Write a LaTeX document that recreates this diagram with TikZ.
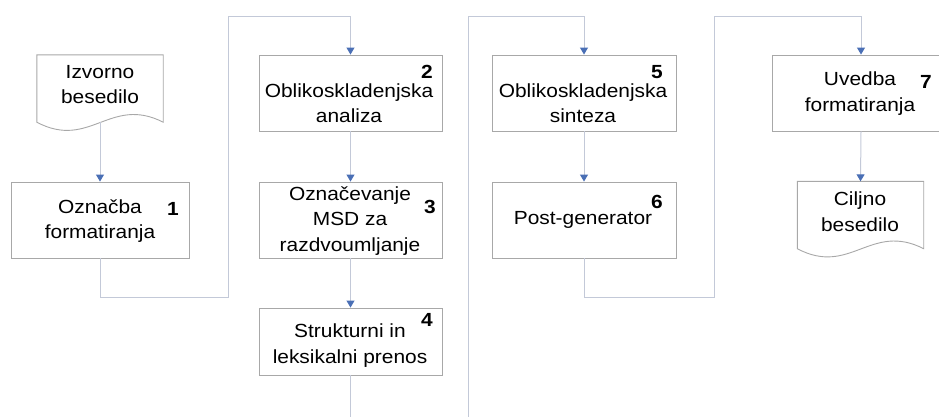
\documentclass[tikz,border=0pt]{standalone}
\usepackage{fontspec}
\setmainfont{Liberation Sans}[FakeStretch=1.1]
\usetikzlibrary{arrows.meta}
\definecolor{linec}{HTML}{C3C9D8}
\definecolor{boxc}{HTML}{A8A8A8}
\definecolor{tipc}{HTML}{4A6FB5}
\begin{document}
\begin{tikzpicture}[x=1pt,y=-1pt,
  box/.style={draw=boxc, line width=0.9pt, fill=white, inner sep=0pt, minimum width=183pt, minimum height=76pt},
  docarea/.style={inner sep=0pt, minimum width=126pt, minimum height=67pt},
  docline/.style={draw=boxc, line width=0.9pt, fill=white},
  txt/.style={inner sep=0pt, align=center, font=\fontsize{19}{25.5}\selectfont},
  num/.style={inner sep=0pt, font=\fontsize{19}{22}\selectfont\bfseries},
  conn/.style={draw=linec, line width=1pt, -{Triangle[width=8pt,length=7pt,color=tipc]}}]
\useasboundingbox (0,0) rectangle (939,416);
\clip (0,0) rectangle (939,416);
% bend points
\coordinate (k1) at (228,297);
\coordinate (k2) at (228,16);
\coordinate (k3) at (468,440);
\coordinate (k4) at (468,16);
\coordinate (k5) at (714,297);
\coordinate (k6) at (714,16);
% nodes
\node[docarea] (izv) at (100,88.5) {};
\draw[docline] (izv.north west) -- (izv.north east) -- (izv.south east)
  .. controls +(-53,-27) and +(53,28) .. (izv.south west) -- cycle;
\node[box, minimum width=178pt] (b1) at (100,220) {};
\node[box] (b2) at (350.5,93) {};
\node[box] (b3) at (350.5,220) {};
\node[box, minimum height=67pt] (b4) at (350.5,341.5) {};
\node[box, minimum width=184pt] (b5) at (584,93) {};
\node[box, minimum width=184pt] (b6) at (584,220) {};
\node[box, minimum width=178pt] (b7) at (861,93) {};
\node[docarea] (cil) at (860.5,215) {};
\draw[docline] (cil.north west) -- (cil.north east) -- (cil.south east)
  .. controls +(-53,-27) and +(53,28) .. (cil.south west) -- cycle;
% texts
\node[txt] at (100,84.5) {Izvorno\\besedilo};
\node[txt] at (100,221) {Označba\\formatiranja};
\node[txt] at (349,103) {Oblikoskladenjska\\analiza};
\node[txt] at (350,221) {Označevanje\\MSD za\\razdvoumljanje};
\node[txt] at (350,345.5) {Strukturni in\\leksikalni prenos};
\node[txt] at (583,103) {Oblikoskladenjska\\sinteza};
\node[txt] at (583,220) {Post-generator};
\node[txt] at (860,93.5) {Uvedba\\formatiranja};
\node[txt] at (860,211.5) {Ciljno\\besedilo};
\node[num] at (173,209) {1};
\node[num] at (427,72) {2};
\node[num] at (430,207) {3};
\node[num] at (427,320) {4};
\node[num] at (657,72) {5};
\node[num] at (657,202) {6};
\node[num] at (926,82) {7};
% connectors
\draw[conn] (izv.south) -- (b1.north);
\draw[conn] (b1.south) |- (k1) -- (k2) -| (b2.north);
\draw[conn] (b2.south) -- (b3.north);
\draw[conn] (b3.south) -- (b4.north);
\draw[conn] (b4.south) |- (k3) -- (k4) -| (b5.north);
\draw[conn] (b5.south) -- (b6.north);
\draw[conn] (b6.south) |- (k5) -- (k6) -| (b7.north);
\draw[conn] (b7.south) -- (cil.north);
\end{tikzpicture}
\end{document}
